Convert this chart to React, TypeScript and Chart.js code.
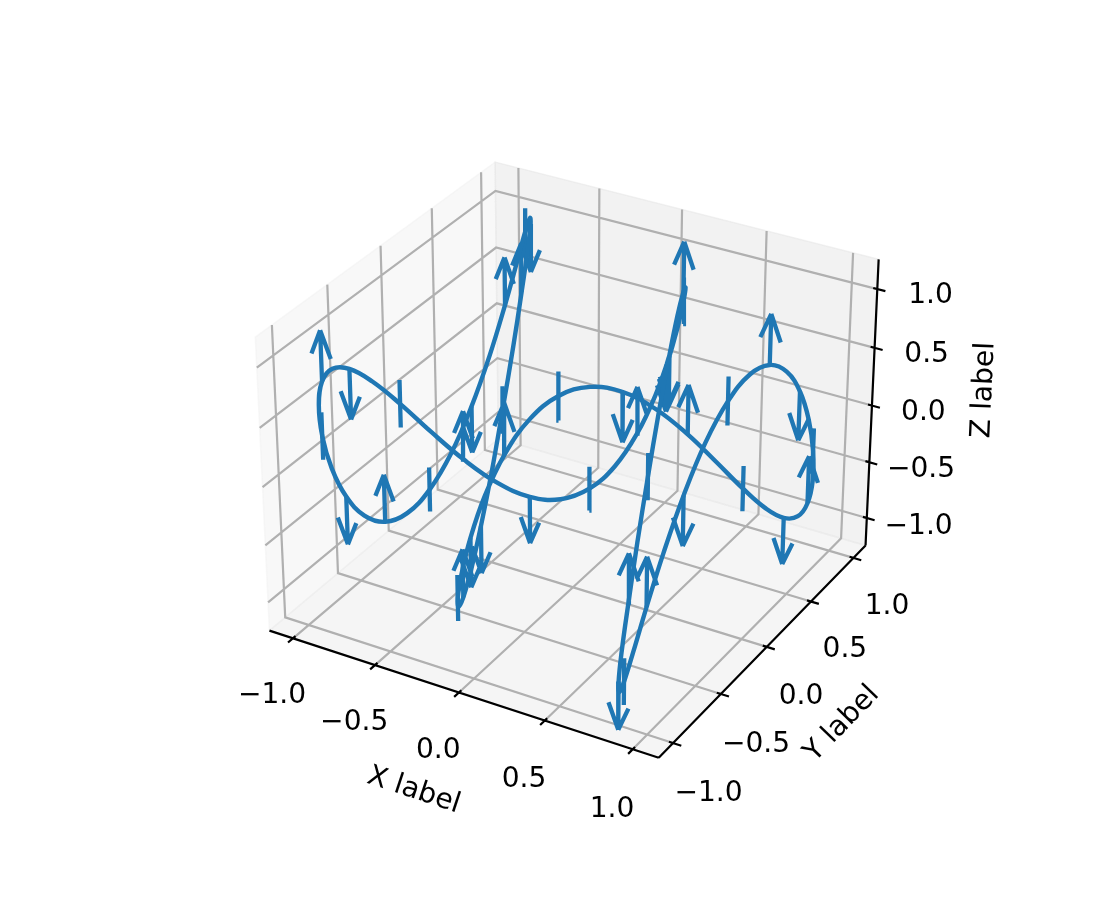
import React, { useEffect, useRef } from "react";
import { Chart, registerables } from "chart.js";

Chart.register(...registerables);

// Curve samples: X, Y, Z values in axis units.
const curveX = [0,0.075,0.149,0.223,0.296,0.366,0.435,0.501,0.565,0.625,0.682,0.734,0.783,0.828,0.867,0.902,0.932,0.957,0.976,0.989,0.998,1,0.997,0.988,0.974,0.954,0.929,0.899,0.863,0.823,0.778,0.729,0.676,0.618,0.558,0.494,0.427,0.359,0.288,0.215,0.141,0.067,-0.008,-0.083,-0.158,-0.231,-0.304,-0.374,-0.443,-0.508,-0.572,-0.631,-0.688,-0.74,-0.789,-0.832,-0.872,-0.906,-0.935,-0.959,-0.978,-0.99,-0.998,-1,-0.996,-0.987,-0.972,-0.952,-0.926,-0.895,-0.859,-0.818,-0.773,-0.723,-0.669,-0.612,-0.551,-0.487,-0.42,-0.351,-0.279,-0.207,-0.133,-0.058,0.017,0.092];
const curveY = [1,0.975,0.9,0.781,0.622,0.431,0.219,-0.004,-0.227,-0.439,-0.628,-0.786,-0.904,-0.977,-1,-0.973,-0.897,-0.776,-0.615,-0.424,-0.211,0.013,0.235,0.446,0.635,0.791,0.908,0.979,1,0.971,0.893,0.77,0.608,0.416,0.203,-0.021,-0.244,-0.454,-0.641,-0.796,-0.911,-0.981,-1,-0.969,-0.889,-0.765,-0.602,-0.409,-0.194,0.029,0.251,0.461,0.648,0.801,0.915,0.982,0.999,0.967,0.885,0.759,0.595,0.401,0.186,-0.038,-0.26,-0.469,-0.654,-0.806,-0.918,-0.983,-0.999,-0.965,-0.881,-0.754,-0.588,-0.394,-0.178,0.046,0.268,0.475,0.66,0.811,0.921,0.985,0.999,0.962];
const curveZ = [0,0.366,0.682,0.902,0.998,0.954,0.778,0.494,0.141,-0.231,-0.572,-0.832,-0.978,-0.987,-0.859,-0.612,-0.279,0.092,0.45,0.746,0.938,1,0.923,0.717,0.412,0.05,-0.319,-0.645,-0.88,-0.993,-0.968,-0.809,-0.537,-0.19,0.183,0.53,0.804,0.966,0.994,0.884,0.65,0.327,-0.042,-0.406,-0.712,-0.919,-1,-0.941,-0.751,-0.457,-0.099,0.272,0.606,0.855,0.986,0.979,0.837,0.579,0.239,-0.134,-0.487,-0.773,-0.952,-0.998,-0.906,-0.687,-0.374,-0.008,0.359,0.676,0.899,0.997,0.956,0.783,0.501,0.149,-0.224,-0.565,-0.829,-0.976,-0.988,-0.864,-0.618,-0.287,0.084,0.443];

// One entry per error bar; each bar sits on every second curve sample.
const barKinds = ["down","both","up","down","both","up","down","both","up","down","both","up","down","both","up","down","both","up","down","both","up","down","both","up","down","both","up","down","both","up","down","both","up","down","both","up","down","both","up","down","both","up","down"];
const barEvery = 2;
const zError = 0.2;
const arrowLength = 0.22;

const tickValues = [-1, -0.5, 0, 0.5, 1];
const xTickLabels = ["\u22121.0", "\u22120.5", "0.0", "0.5", "1.0"];
const yTickLabels = ["\u22121.0", "\u22120.5", "0.0", "0.5", "1.0"];
const zTickLabels = ["\u22121.0", "\u22120.5", "0.0", "0.5", "1.0"];
const xAxisTitle = "X label";
const yAxisTitle = "Y label";
const zAxisTitle = "Z label";

const LX = 1.1458, LY = 1.1458, LZ = 1.25;

// Camera of the picture: elevation 30, azimuth -60, distance 10.
const SCALE = 3746, CX = 573, CY = 445.6, HALF_XY = 0.59525, HALF_Z = 0.4464;
const U = [0.8660254, 0.5, 0];
const V = [-0.25, 0.4330127, 0.8660254];
const W = [0.4330127, -0.75, 0.5];
function project(x: number, y: number, z: number) {
  const q = [(x * HALF_XY) / LX, (y * HALF_XY) / LY, (z * HALF_Z) / LZ];
  const dot = (a: number[]) => a[0] * q[0] + a[1] * q[1] + a[2] * q[2];
  const d = 10 - dot(W);
  return { x: CX + (SCALE * dot(U)) / d, y: CY - (SCALE * dot(V)) / d };
}
type P3 = [number, number, number];
const GAP = { x: NaN, y: NaN };
function pathOf(segments: P3[][]) {
  const out: { x: number; y: number }[] = [];
  segments.forEach((seg, i) => {
    if (i) out.push(GAP);
    seg.forEach((p) => out.push(project(p[0], p[1], p[2])));
  });
  return out;
}

const BLUE = "#1f77b4";
const FONT = '"DejaVu Sans"';
const TXT = 28.1;

function line(data: { x: number; y: number }[], color: string, width: number, extra: object = {}) {
  return { data, borderColor: color, borderWidth: width, showLine: true, pointRadius: 0, pointHoverRadius: 0, borderCapStyle: "butt", borderJoinStyle: "miter", spanGaps: false, clip: false, ...extra };
}
function pane(corners: P3[], color: string) {
  return line(pathOf([corners]), color, 1.5, { fill: "shape", backgroundColor: color });
}

function buildDatasets() {
  const inq = 0.012, outq = 0.024;
  const inX = (inq * LX) / HALF_XY, outX = (outq * LX) / HALF_XY;
  const inY = (inq * LY) / HALF_XY, outY = (outq * LY) / HALF_XY;
  const layers: any[] = [];
  layers.push(pane([[-LX,-LY,-LZ],[-LX,LY,-LZ],[-LX,LY,LZ],[-LX,-LY,LZ],[-LX,-LY,-LZ]], "rgba(242,242,242,0.5)"));
  layers.push(pane([[-LX,LY,-LZ],[LX,LY,-LZ],[LX,LY,LZ],[-LX,LY,LZ],[-LX,LY,-LZ]], "rgba(230,230,230,0.5)"));
  layers.push(pane([[-LX,-LY,-LZ],[LX,-LY,-LZ],[LX,LY,-LZ],[-LX,LY,-LZ],[-LX,-LY,-LZ]], "rgba(236,236,236,0.5)"));
  const grid: P3[][] = [];
  tickValues.forEach((t) => {
    grid.push([[t,-LY,-LZ],[t,LY,-LZ],[t,LY,LZ]]);
    grid.push([[LX,t,-LZ],[-LX,t,-LZ],[-LX,t,LZ]]);
    grid.push([[-LX,-LY,t],[-LX,LY,t],[LX,LY,t]]);
  });
  layers.push(line(pathOf(grid), "#b0b0b0", 2.2));
  const frame: P3[][] = [[[-LX,-LY,-LZ],[LX,-LY,-LZ]],[[LX,-LY,-LZ],[LX,LY,-LZ]],[[LX,LY,-LZ],[LX,LY,LZ]]];
  tickValues.forEach((t) => {
    frame.push([[t,-LY+inY,-LZ],[t,-LY-outY,-LZ]]);
    frame.push([[LX-inX,t,-LZ],[LX+outX,t,-LZ]]);
    frame.push([[LX-inX,LY,t],[LX+outX,LY,t]]);
  });
  layers.push(line(pathOf(frame), "#000000", 2.2));

  const bars: P3[][] = [];
  const s = Math.sin((15 * Math.PI) / 180), c = Math.cos((15 * Math.PI) / 180);
  barKinds.forEach((kind, k) => {
    const j = k * barEvery;
    const x = curveX[j], y = curveY[j], z = curveZ[j];
    if (kind === "both") {
      bars.push([[x,y,z-zError],[x,y,z+zError]]);
      return;
    }
    const dir = kind === "up" ? 1 : -1;
    const tip = z + dir * (zError + arrowLength);
    bars.push([[x,y,z],[x,y,tip]]);
    bars.push([[x-s*arrowLength,y,tip-dir*c*arrowLength],[x,y,tip]]);
    bars.push([[x+s*arrowLength,y,tip-dir*c*arrowLength],[x,y,tip]]);
  });
  layers.push(line(pathOf(bars), BLUE, 4.3));
  const curve = curveX.map((x, i) => project(x, curveY[i], curveZ[i]));
  layers.push(line(curve, BLUE, 4.4, { tension: 0.4, borderJoinStyle: "round" }));
  return layers.reverse();
}

// Label placement on the canvas scale.
const xLabelAt = [[272,692.7],[354.2,720],[438.3,748.4],[524,777.4],[612,807.4]];
const yLabelAt = [[708.5,791.2],[756,741.5],[801,693.7],[844.9,647.3],[887,603.5]];
const zLabelAt = [[918.6,524.4],[921,467.4],[923.4,410],[926.6,352],[930.5,293.3]];
const titles: [string, number, number, number][] = [
  [xAxisTitle, 414.5, 788, 18.3],
  [yAxisTitle, 840, 722, -45.8],
  [zAxisTitle, 981.5, 390, -87.4],
];

const textPlugin = {
  id: "labels3d",
  afterDraw(chart: any) {
    const { ctx, scales } = chart;
    const px = (v: number) => scales.x.getPixelForValue(v);
    const py = (v: number) => scales.y.getPixelForValue(v);
    ctx.save();
    ctx.fillStyle = "#000000";
    ctx.font = `${TXT}px ${FONT}`;
    ctx.textAlign = "center";
    ctx.textBaseline = "alphabetic";
    const put = (labels: string[], at: number[][]) =>
      labels.forEach((t, i) => ctx.fillText(t, px(at[i][0]), py(at[i][1]) + 10));
    put(xTickLabels, xLabelAt);
    put(yTickLabels, yLabelAt);
    put(zTickLabels, zLabelAt);
    titles.forEach(([t, x, y, deg]) => {
      ctx.save();
      ctx.translate(px(x), py(y));
      ctx.rotate((deg * Math.PI) / 180);
      ctx.fillText(t, 0, 10);
      ctx.restore();
    });
    ctx.restore();
  },
};

export default function App() {
  const ref = useRef<HTMLCanvasElement>(null);
  useEffect(() => {
    if (!ref.current) return;
    const chart = new Chart(ref.current, {
      type: "scatter",
      data: { datasets: buildDatasets() },
      options: {
        animation: false,
        responsive: false,
        devicePixelRatio: 1,
        layout: { padding: 0 },
        events: [],
        scales: {
          x: { type: "linear", display: false, min: 0, max: 1100 },
          y: { type: "linear", display: false, min: 0, max: 900, reverse: true },
        },
        plugins: { legend: { display: false }, tooltip: { enabled: false } },
      } as any,
      plugins: [textPlugin],
    });
    return () => chart.destroy();
  }, []);
  return (
    <canvas
      ref={ref}
      width={1100}
      height={900}
      style={{ position: "absolute", left: 0, top: 0, width: 1100, height: 900, display: "block", background: "#ffffff" }}
    />
  );
}
